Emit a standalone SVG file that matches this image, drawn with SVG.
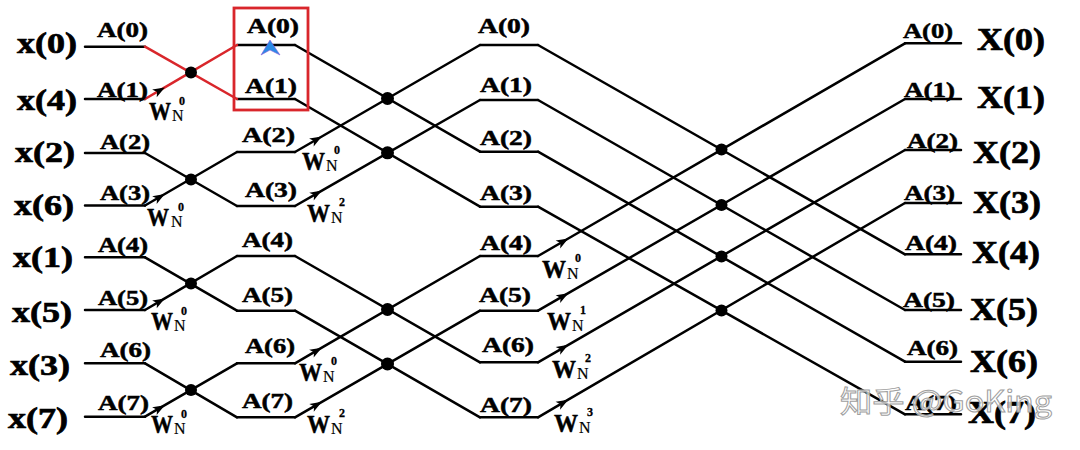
<svg xmlns="http://www.w3.org/2000/svg" width="1080" height="450" viewBox="0 0 1080 450">
<defs>
<style>
.ln{stroke:#000;stroke-width:2.5;fill:none;stroke-linecap:round}
.red{stroke:#d9262b}
.t{font-family:"Liberation Serif","Times New Roman",serif;font-weight:bold;fill:#000;stroke:#000;stroke-width:0.5}
.a{font-size:21px}
.in{font-size:29px;stroke-width:0.7}
.out{font-size:32px;stroke-width:0.7}
.w{font-size:26px}
.n{font-size:16px;font-weight:normal;stroke-width:0.2}
.s{font-size:12px;stroke-width:0.3}
.dot{fill:#000}
.wm{font-family:"Noto Sans CJK SC","Noto Sans",sans-serif;font-size:30px;fill:#fff;fill-opacity:0.75;stroke:#a0a0a0;stroke-width:1}
</style>
<marker id="arr" markerUnits="userSpaceOnUse" markerWidth="16" markerHeight="12" viewBox="-13 -6 14 12" refX="0" refY="0" orient="auto">
<path d="M0,0 L-12,-4.5 L-9,0 L-12,4.5 Z" fill="#000"/>
</marker>
</defs>

<g id="connectors">
<g id="stage0-lines">
<path class="ln" d="M85,46.7H145M85,99H145M85,153H145M85,205.5H145M85,257.3H145M85,310H145M85,363.3H145M85,416.7H145"/>
</g>
<g id="stage1-lines">
<path class="ln" d="M237,45H295M237,99H295M237,152H295M237,206H295M237,256H295M237,310.7H295M237,363.3H295M237,417.3H295"/>
</g>
<g id="stage2-lines">
<path class="ln" d="M480,45H538M480,100H538M480,151.7H538M480,206.7H538M480,256H538M480,310.7H538M480,362.3H538M480,417.3H538"/>
</g>
<g id="stage3-lines">
<path class="ln" d="M905,43.3H961M905,99H961M905,150H961M905,203H961M905,254.3H961M905,310H961M905,361.7H961M905,414.3H961"/>
</g>
<path class="ln red" d="M145,46.7L237,99"/>
<path class="ln red" d="M145,99L164.8,87.4L237,45" marker-mid="url(#arr)"/>
<path class="ln" d="M145,153L237,206"/>
<path class="ln" d="M145,205.5L164.8,194L237,152" marker-mid="url(#arr)"/>
<path class="ln" d="M145,257.3L237,310.7"/>
<path class="ln" d="M145,310L164.8,298.4L237,256" marker-mid="url(#arr)"/>
<path class="ln" d="M145,363.3L237,417.3"/>
<path class="ln" d="M145,416.7L164.8,405.2L237,363.3" marker-mid="url(#arr)"/>
<path class="ln" d="M295,45L480,151.7"/>
<path class="ln" d="M295,99L480,206.7"/>
<path class="ln" d="M295,152L321.8,136.5L480,45" marker-mid="url(#arr)"/>
<path class="ln" d="M295,206L321.9,190.6L480,100" marker-mid="url(#arr)"/>
<path class="ln" d="M295,256L480,362.3"/>
<path class="ln" d="M295,310.7L480,417.3"/>
<path class="ln" d="M295,363.3L321.8,347.7L480,256" marker-mid="url(#arr)"/>
<path class="ln" d="M295,417.3L321.9,401.8L480,310.7" marker-mid="url(#arr)"/>
<path class="ln" d="M538,45L905,254.3"/>
<path class="ln" d="M538,100L905,310"/>
<path class="ln" d="M538,151.7L905,361.7"/>
<path class="ln" d="M538,206.7L905,414.3"/>
<path class="ln" d="M538,256L568.3,238.5L905,43.3" marker-mid="url(#arr)"/>
<path class="ln" d="M538,310.7L568.3,293.2L905,99" marker-mid="url(#arr)"/>
<path class="ln" d="M538,362.3L568.3,344.8L905,150" marker-mid="url(#arr)"/>
<path class="ln" d="M538,417.3L568.2,399.7L905,203" marker-mid="url(#arr)"/>
</g>

<g id="junctions">
<circle class="dot" cx="191" cy="72.5" r="6"/>
<circle class="dot" cx="191" cy="179.5" r="6"/>
<circle class="dot" cx="191" cy="283.5" r="6"/>
<circle class="dot" cx="191" cy="390" r="6"/>
<circle class="dot" cx="387.5" cy="98.5" r="6.5"/>
<circle class="dot" cx="387.5" cy="152.8" r="6.5"/>
<circle class="dot" cx="387.5" cy="309.5" r="6.5"/>
<circle class="dot" cx="387.5" cy="364" r="6.5"/>
<circle class="dot" cx="721.5" cy="149.6" r="6"/>
<circle class="dot" cx="721.5" cy="204.9" r="6"/>
<circle class="dot" cx="721.5" cy="256.4" r="6"/>
<circle class="dot" cx="721.5" cy="310.5" r="6"/>
</g>

<g id="inputs">
<text class="t in" x="17" y="53" textLength="60" lengthAdjust="spacingAndGlyphs">x(0)</text>
<text class="t in" x="17" y="110" textLength="60" lengthAdjust="spacingAndGlyphs">x(4)</text>
<text class="t in" x="15" y="162" textLength="60" lengthAdjust="spacingAndGlyphs">x(2)</text>
<text class="t in" x="14" y="215" textLength="60" lengthAdjust="spacingAndGlyphs">x(6)</text>
<text class="t in" x="13" y="267" textLength="60" lengthAdjust="spacingAndGlyphs">x(1)</text>
<text class="t in" x="12" y="322" textLength="60" lengthAdjust="spacingAndGlyphs">x(5)</text>
<text class="t in" x="10" y="375" textLength="60" lengthAdjust="spacingAndGlyphs">x(3)</text>
<text class="t in" x="8" y="428" textLength="60" lengthAdjust="spacingAndGlyphs">x(7)</text>
</g>

<g id="outputs">
<text class="t out" x="977" y="50" textLength="68" lengthAdjust="spacingAndGlyphs">X(0)</text>
<text class="t out" x="977" y="108" textLength="68" lengthAdjust="spacingAndGlyphs">X(1)</text>
<text class="t out" x="973" y="163" textLength="68" lengthAdjust="spacingAndGlyphs">X(2)</text>
<text class="t out" x="973" y="213" textLength="68" lengthAdjust="spacingAndGlyphs">X(3)</text>
<text class="t out" x="972" y="263" textLength="68" lengthAdjust="spacingAndGlyphs">X(4)</text>
<text class="t out" x="970" y="320" textLength="68" lengthAdjust="spacingAndGlyphs">X(5)</text>
<text class="t out" x="970" y="372" textLength="68" lengthAdjust="spacingAndGlyphs">X(6)</text>
<text class="t out" x="968" y="423" textLength="68" lengthAdjust="spacingAndGlyphs">X(7)</text>
</g>

<g id="stage1-labels">
<text class="t a" x="97" y="37" textLength="51" lengthAdjust="spacingAndGlyphs">A(0)</text>
<text class="t a" x="97" y="97" textLength="51" lengthAdjust="spacingAndGlyphs">A(1)</text>
<text class="t a" x="100" y="149" textLength="50" lengthAdjust="spacingAndGlyphs">A(2)</text>
<text class="t a" x="100" y="200" textLength="50" lengthAdjust="spacingAndGlyphs">A(3)</text>
<text class="t a" x="98" y="252" textLength="50" lengthAdjust="spacingAndGlyphs">A(4)</text>
<text class="t a" x="98" y="305" textLength="50" lengthAdjust="spacingAndGlyphs">A(5)</text>
<text class="t a" x="100" y="357" textLength="51" lengthAdjust="spacingAndGlyphs">A(6)</text>
<text class="t a" x="98" y="410" textLength="51" lengthAdjust="spacingAndGlyphs">A(7)</text>
</g>

<g id="stage2-labels">
<text class="t a" x="247" y="33" textLength="52" lengthAdjust="spacingAndGlyphs">A(0)</text>
<text class="t a" x="245" y="93" textLength="52" lengthAdjust="spacingAndGlyphs">A(1)</text>
<text class="t a" x="242" y="142" textLength="53" lengthAdjust="spacingAndGlyphs">A(2)</text>
<text class="t a" x="245" y="197" textLength="52" lengthAdjust="spacingAndGlyphs">A(3)</text>
<text class="t a" x="242" y="247" textLength="51" lengthAdjust="spacingAndGlyphs">A(4)</text>
<text class="t a" x="242" y="302" textLength="51" lengthAdjust="spacingAndGlyphs">A(5)</text>
<text class="t a" x="245" y="353" textLength="50" lengthAdjust="spacingAndGlyphs">A(6)</text>
<text class="t a" x="242" y="408" textLength="51" lengthAdjust="spacingAndGlyphs">A(7)</text>
</g>

<g id="stage3-labels">
<text class="t a" x="478" y="33" textLength="52" lengthAdjust="spacingAndGlyphs">A(0)</text>
<text class="t a" x="480" y="92" textLength="52" lengthAdjust="spacingAndGlyphs">A(1)</text>
<text class="t a" x="480" y="145" textLength="52" lengthAdjust="spacingAndGlyphs">A(2)</text>
<text class="t a" x="480" y="200" textLength="52" lengthAdjust="spacingAndGlyphs">A(3)</text>
<text class="t a" x="480" y="250" textLength="52" lengthAdjust="spacingAndGlyphs">A(4)</text>
<text class="t a" x="479" y="302" textLength="52" lengthAdjust="spacingAndGlyphs">A(5)</text>
<text class="t a" x="482" y="352" textLength="52" lengthAdjust="spacingAndGlyphs">A(6)</text>
<text class="t a" x="480" y="412" textLength="52" lengthAdjust="spacingAndGlyphs">A(7)</text>
</g>

<g id="stage4-labels">
<text class="t a" x="903" y="38" textLength="50" lengthAdjust="spacingAndGlyphs">A(0)</text>
<text class="t a" x="904" y="97" textLength="51" lengthAdjust="spacingAndGlyphs">A(1)</text>
<text class="t a" x="907" y="148" textLength="51" lengthAdjust="spacingAndGlyphs">A(2)</text>
<text class="t a" x="904" y="200" textLength="51" lengthAdjust="spacingAndGlyphs">A(3)</text>
<text class="t a" x="905" y="250" textLength="52" lengthAdjust="spacingAndGlyphs">A(4)</text>
<text class="t a" x="903" y="307" textLength="52" lengthAdjust="spacingAndGlyphs">A(5)</text>
<text class="t a" x="907" y="355" textLength="51" lengthAdjust="spacingAndGlyphs">A(6)</text>
<text class="t a" x="905" y="410" textLength="52" lengthAdjust="spacingAndGlyphs">A(7)</text>
</g>

<g id="twiddles">
<g id="tw1-1"><text class="t w" x="149" y="120" textLength="22" lengthAdjust="spacingAndGlyphs">W</text><text class="t n" x="172" y="121">N</text><text class="t s" x="179" y="105">0</text></g>
<g id="tw1-3"><text class="t w" x="147" y="226" textLength="22" lengthAdjust="spacingAndGlyphs">W</text><text class="t n" x="171" y="227">N</text><text class="t s" x="178" y="211">0</text></g>
<g id="tw1-5"><text class="t w" x="151" y="330" textLength="22" lengthAdjust="spacingAndGlyphs">W</text><text class="t n" x="174" y="331">N</text><text class="t s" x="181" y="315">0</text></g>
<g id="tw1-7"><text class="t w" x="151" y="433" textLength="22" lengthAdjust="spacingAndGlyphs">W</text><text class="t n" x="174" y="434">N</text><text class="t s" x="181" y="418">0</text></g>
<g id="tw2-2"><text class="t w" x="302" y="170" textLength="23" lengthAdjust="spacingAndGlyphs">W</text><text class="t n" x="326" y="171">N</text><text class="t s" x="334" y="154">0</text></g>
<g id="tw2-3"><text class="t w" x="307" y="222" textLength="23" lengthAdjust="spacingAndGlyphs">W</text><text class="t n" x="331" y="223">N</text><text class="t s" x="339" y="206">2</text></g>
<g id="tw2-6"><text class="t w" x="299" y="381" textLength="23" lengthAdjust="spacingAndGlyphs">W</text><text class="t n" x="323" y="382">N</text><text class="t s" x="331" y="365">0</text></g>
<g id="tw2-7"><text class="t w" x="307" y="433" textLength="23" lengthAdjust="spacingAndGlyphs">W</text><text class="t n" x="331" y="434">N</text><text class="t s" x="339" y="417">2</text></g>
<g id="tw3-4"><text class="t w" x="542" y="278" textLength="24" lengthAdjust="spacingAndGlyphs">W</text><text class="t n" x="567" y="279">N</text><text class="t s" x="575" y="262">0</text></g>
<g id="tw3-5"><text class="t w" x="547" y="330" textLength="24" lengthAdjust="spacingAndGlyphs">W</text><text class="t n" x="572" y="331">N</text><text class="t s" x="580" y="314">1</text></g>
<g id="tw3-6"><text class="t w" x="552" y="378" textLength="24" lengthAdjust="spacingAndGlyphs">W</text><text class="t n" x="577" y="379">N</text><text class="t s" x="585" y="362">2</text></g>
<g id="tw3-7"><text class="t w" x="554" y="432" textLength="24" lengthAdjust="spacingAndGlyphs">W</text><text class="t n" x="579" y="433">N</text><text class="t s" x="587" y="416">3</text></g>
</g>

<g id="highlight">
<rect x="234" y="8" width="74" height="102" fill="none" stroke="#d9262b" stroke-width="2.8"/>
<polygon points="270,40 280,55 270,50 261,55" fill="#2b8be6" stroke="#8a5ad8" stroke-width="0.6"/>
</g>

<text class="wm" x="840" y="412" textLength="212" lengthAdjust="spacingAndGlyphs">知乎 @GoKing</text>
</svg>
